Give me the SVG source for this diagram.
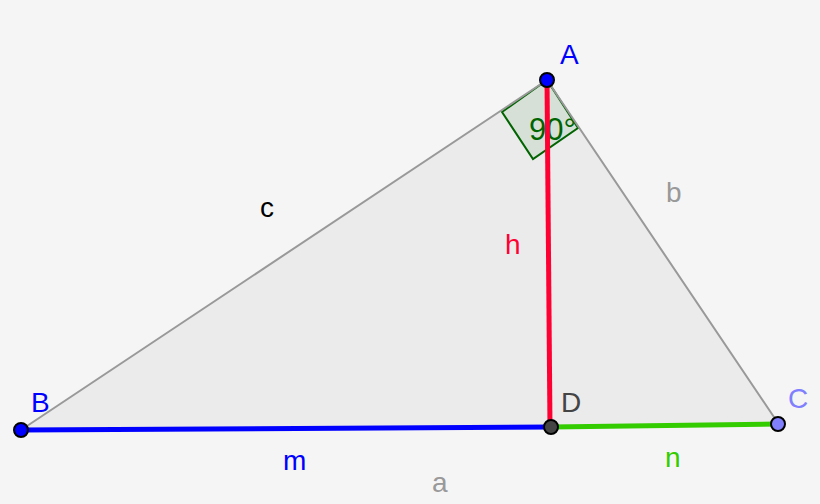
<svg xmlns="http://www.w3.org/2000/svg" width="820" height="504" viewBox="0 0 820 504">
<style>
.side{stroke:#999;stroke-width:2;fill:none;stroke-linecap:round}
.seg{stroke-width:5;fill:none}
.pt{stroke:#000;stroke-width:2}
text{font-family:"Liberation Sans",Arial,sans-serif;font-size:28px}
</style>
<rect width="820" height="504" fill="#f5f5f5"/>
<g id="triangle">
<polygon points="547,80 21,430 778,423" fill="#ebebeb" stroke="none"/>
</g>
<g id="angle">
<polygon points="547,80 502,112 533,159 578,128" fill="#d7e0d7" stroke="#006400" stroke-width="2"/>
<text x="529" y="140" fill="#006400" style="font-size:31px">90°</text>
</g>
<g id="connectors">
<line class="side" x1="21" y1="430" x2="547" y2="80"/>
<line class="side" x1="547" y1="80" x2="778" y2="423"/>
<line class="seg" stroke="#0000ff" x1="21" y1="430" x2="551" y2="427"/>
<line class="seg" stroke="#33cc00" x1="551" y1="427" x2="778" y2="424"/>
<line class="seg" stroke="#ff0033" x1="547" y1="80" x2="550" y2="427"/>
</g>
<g id="labels">
<text x="260" y="217" fill="#000">c</text>
<text x="666" y="202" fill="#999">b</text>
<text x="505" y="254" fill="#ff0033">h</text>
<text x="283" y="470" fill="#0000ff">m</text>
<text x="665" y="467" fill="#33cc00">n</text>
<text x="432" y="492" fill="#999">a</text>
</g>
<g id="A"><circle class="pt" cx="547" cy="80" r="7" fill="#0000ff"/><text x="560" y="64" fill="#0000ff">A</text></g>
<g id="B"><circle class="pt" cx="21" cy="430" r="7" fill="#0000ff"/><text x="31" y="412" fill="#0000ff">B</text></g>
<g id="C"><circle class="pt" cx="778" cy="424" r="7" fill="#8080ff"/><text x="788" y="408" fill="#8080ff">C</text></g>
<g id="D"><circle class="pt" cx="551" cy="427" r="7" fill="#444"/><text x="561" y="412" fill="#444">D</text></g>
</svg>
